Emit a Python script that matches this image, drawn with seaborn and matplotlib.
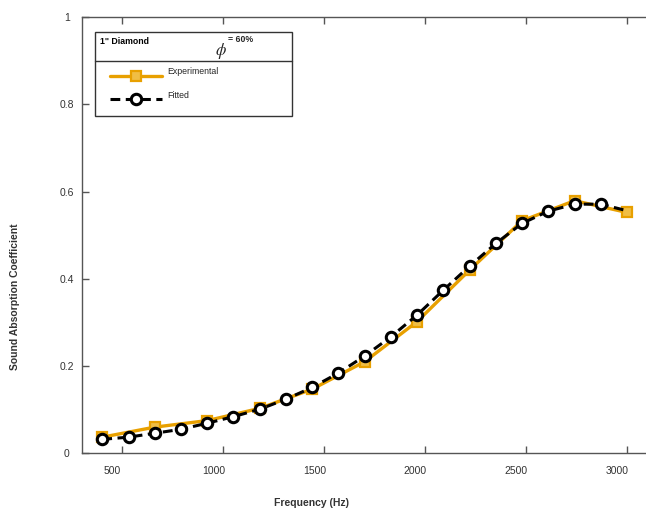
import numpy as np
import pandas as pd
import matplotlib
matplotlib.use("Agg")
import matplotlib.pyplot as plt
import seaborn as sns
from matplotlib.lines import Line2D
from matplotlib.patches import Rectangle
from matplotlib.transforms import ScaledTranslation

# ---- data ----
exp_freq = [400, 660, 920, 1180, 1440, 1700, 1960, 2220, 2480, 2740, 3000]
exp_alpha = [0.037, 0.060, 0.075, 0.103, 0.147, 0.210, 0.302, 0.420, 0.533, 0.579, 0.552]

fit_freq = [400, 530, 660, 790, 920, 1050, 1180, 1310, 1440, 1570, 1700,
            1830, 1960, 2090, 2220, 2350, 2480, 2610, 2740, 2870, 3000]
fit_alpha = [0.032, 0.037, 0.046, 0.055, 0.069, 0.084, 0.101, 0.124, 0.151, 0.184, 0.223,
             0.267, 0.317, 0.374, 0.429, 0.481, 0.527, 0.555, 0.571, 0.571, 0.556]

xticks = [500, 1000, 1500, 2000, 2500, 3000]
yticks = [0, 0.2, 0.4, 0.6, 0.8, 1]
ytick_labels = ["0", "0.2", "0.4", "0.6", "0.8", "1"]

legend_title = '1" Diamond'
legend_labels = ["Experimental", "Fitted"]

ORANGE = "#E8A000"
ORANGE_FACE = "#F0BE45"

sns.set_style("white")
plt.rcParams["font.family"] = ["Liberation Sans", "DejaVu Sans"]
plt.rcParams["mathtext.fontset"] = "stix"

W, H = 646, 513
fig = plt.figure(figsize=(W / 100, H / 100), dpi=100)
ax_l, ax_r, ax_b, ax_t = 81.7, 646, 453.3, 17
ax = fig.add_axes([ax_l / W, (H - ax_b) / H, (ax_r - ax_l) / W, (ax_b - ax_t) / H])

df_exp = pd.DataFrame({"f": exp_freq, "a": exp_alpha})
df_fit = pd.DataFrame({"f": fit_freq, "a": fit_alpha})

sns.lineplot(data=df_exp, x="f", y="a", ax=ax, color=ORANGE, lw=2.4,
             marker="s", markersize=7, markerfacecolor=ORANGE_FACE,
             markeredgecolor=ORANGE, markeredgewidth=1.6, zorder=3)
sns.lineplot(data=df_fit, x="f", y="a", ax=ax, color="black", lw=2.2,
             dashes=False, linestyle=(0, (3.2, 1.8)),
             marker="o", markersize=7.5, markerfacecolor="white",
             markeredgecolor="black", markeredgewidth=2.2,
             markevery=list(range(len(fit_freq) - 1)), zorder=4)

ax.set_xlim(298, 3094)
ax.set_ylim(0, 1)
ax.set_xticks(xticks)
ax.set_xticklabels([str(t) for t in xticks])
ax.set_yticks(yticks)
ax.set_yticklabels(ytick_labels)

SPINE = "#555555"
for s in ["left", "bottom", "top"]:
    ax.spines[s].set_visible(True)
    ax.spines[s].set_color(SPINE)
    ax.spines[s].set_linewidth(1.0)
ax.spines["right"].set_visible(False)

ax.tick_params(axis="both", direction="in", length=5, width=1.0, color=SPINE,
               labelsize=7.5, labelcolor="#333333")
ax.tick_params(axis="x", top=True, bottom=True, pad=9)
ax.tick_params(axis="y", left=True, right=False, pad=7)
for lab in ax.get_yticklabels():
    lab.set_horizontalalignment("center")
    lab.set_transform(lab.get_transform() + ScaledTranslation(-0.05, 0.0, fig.dpi_scale_trans))
for lab in ax.get_xticklabels():
    lab.set_transform(lab.get_transform() + ScaledTranslation(-0.10, 0, fig.dpi_scale_trans))

ax.set_xlabel("Frequency (Hz)", fontsize=7.5, fontweight="bold", color="#333333")
ax.set_ylabel("Sound Absorption Coefficient", fontsize=7.5, fontweight="bold", color="#333333")
ax.xaxis.set_label_coords((312 - ax_l) / (ax_r - ax_l), (ax_b - 503) / (ax_b - ax_t))
ax.yaxis.set_label_coords((15 - ax_l) / (ax_r - ax_l), (ax_b - 297) / (ax_b - ax_t))
ax.xaxis.label.set_verticalalignment("center")
ax.yaxis.label.set_verticalalignment("center")


def axx(px):
    return (px - ax_l) / (ax_r - ax_l)


def axy(py):
    return (ax_b - py) / (ax_b - ax_t)


# legend box
box = Rectangle((axx(95), axy(116)), axx(292) - axx(95), axy(31.7) - axy(116),
                transform=ax.transAxes, fill=True, facecolor="white",
                edgecolor="#333333", lw=1.0, zorder=10)
ax.add_patch(box)
ax.add_line(Line2D([axx(95), axx(292)], [axy(61), axy(61)], transform=ax.transAxes,
                   color="#333333", lw=1.0, zorder=11))
ax.text(axx(100), axy(41), legend_title, transform=ax.transAxes, fontsize=6.3,
        fontweight="bold", ha="left", va="center", zorder=12, color="black")
ax.text(axx(221), axy(51), r"$\phi$", transform=ax.transAxes, fontsize=12,
        ha="center", va="center", zorder=12)
ax.text(axx(228), axy(40), "= 60%", transform=ax.transAxes, fontsize=6.3,
        fontweight="bold", ha="left", va="center", zorder=12)

# legend entries
ax.add_line(Line2D([axx(110), axx(162)], [axy(76), axy(76)], transform=ax.transAxes,
                   color=ORANGE, lw=2.4, zorder=12))
ax.add_line(Line2D([axx(136)], [axy(76)], transform=ax.transAxes, color=ORANGE,
                   marker="s", markersize=7, markerfacecolor=ORANGE_FACE,
                   markeredgecolor=ORANGE, markeredgewidth=1.6, zorder=13))
ax.text(axx(167), axy(72), legend_labels[0], transform=ax.transAxes, fontsize=6.3,
        ha="left", va="center", zorder=12)
ax.add_line(Line2D([axx(110), axx(162)], [axy(99), axy(99)], transform=ax.transAxes,
                   color="black", lw=2.2, linestyle=(0, (3.2, 1.8)), zorder=12))
ax.add_line(Line2D([axx(136)], [axy(99)], transform=ax.transAxes, color="black",
                   marker="o", markersize=7.5, markerfacecolor="white",
                   markeredgecolor="black", markeredgewidth=2.2, zorder=13))
ax.text(axx(167), axy(96), legend_labels[1], transform=ax.transAxes, fontsize=6.3,
        ha="left", va="center", zorder=12)

# y tick "1" label placed outside the axes top
fig.savefig("out.png", dpi=100)
